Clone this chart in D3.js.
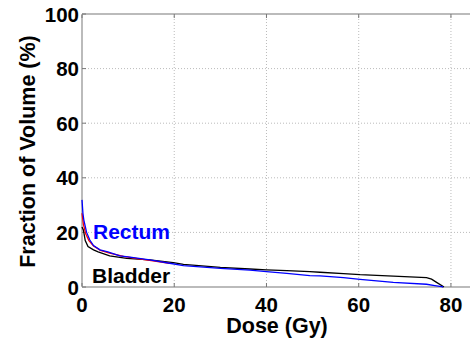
<!DOCTYPE html>
<html><head><meta charset="utf-8">
<script src="https://cdn.jsdelivr.net/npm/d3@7"></script>
<style>body{margin:0;background:#fff}svg{display:block}text{font-family:"Liberation Sans",Arial,sans-serif;font-weight:bold}</style>
</head><body>
<script>
const xTicks = [0, 20, 40, 60, 80];
const yTicks = [0, 20, 40, 60, 80, 100];
const rectumDose = [0, 0.2, 0.4, 1, 1.7, 2.5, 3.9, 5.6, 8.2, 10, 14.7, 19, 22, 30, 36.4, 40, 44.4, 49.4, 51.6, 56.7, 60.3, 67.5, 74.7, 76.5, 78, 78.3];
const rectumVol  = [31.9, 27, 24.5, 20, 17.2, 15.2, 13.6, 12.9, 11.4, 11.0, 9.9, 8.7, 7.8, 6.8, 6.2, 5.6, 5.0, 4.2, 4.1, 3.4, 2.8, 1.7, 1.0, 0.5, 0.1, 0];
const rectum2Dose = [0, 0.3, 0.8, 1.5, 2.5, 4, 6, 9, 12, 15, 19];
const rectum2Vol  = [27, 23, 19.5, 17, 15, 13.4, 12.4, 11.2, 10.4, 9.7, 8.7];
const bladderDose = [0, 0.3, 0.7, 1.3, 2.5, 3.5, 6, 9.7, 14.7, 19.8, 22, 30, 36.4, 40, 44.4, 49.4, 51.6, 56.7, 60.3, 67.5, 74.7, 75.8, 76.8, 78.5];
const bladderVol  = [22, 20.9, 17, 14.8, 13.6, 12.9, 11.4, 10.5, 9.9, 8.9, 8.3, 7.2, 6.6, 6.3, 6.0, 5.6, 5.4, 4.9, 4.5, 4.0, 3.4, 2.9, 1.8, 0];

const W = 470, H = 341;
const svg = d3.select("body").append("svg").attr("width", W).attr("height", H);
const x = d3.scaleLinear().domain([0, 85]).range([82, 474]);
const y = d3.scaleLinear().domain([0, 100]).range([287, 14]);

// grid
const g = svg.append("g");
g.selectAll(".gx").data(xTicks.filter(d => d > 0)).enter().append("line")
  .attr("x1", d => x(d)).attr("x2", d => x(d)).attr("y1", y(0)).attr("y2", y(100))
  .attr("stroke", "#bbb").attr("stroke-width", 1).attr("stroke-dasharray", "1,2");
g.selectAll(".gy").data(yTicks.filter(d => d > 0 && d < 100)).enter().append("line")
  .attr("y1", d => y(d)).attr("y2", d => y(d)).attr("x1", x(0)).attr("x2", W)
  .attr("stroke", "#bbb").attr("stroke-width", 1).attr("stroke-dasharray", "1,2");

// frame
svg.append("line").attr("x1", x(0)).attr("x2", W).attr("y1", y(100)).attr("y2", y(100)).attr("stroke", "#bbb").attr("stroke-width", 2);
svg.append("line").attr("x1", x(0)).attr("x2", W).attr("y1", y(0)).attr("y2", y(0)).attr("stroke", "#bbb").attr("stroke-width", 2);
svg.append("line").attr("x1", x(0)).attr("x2", x(0)).attr("y1", y(0)-1).attr("y2", y(100)+1).attr("stroke", "#bbb").attr("stroke-width", 2);

// tick marks
svg.selectAll(".tb").data(xTicks).enter().append("line")
  .attr("x1", d => x(d)).attr("x2", d => x(d)).attr("y1", y(0)).attr("y2", y(0) - 4).attr("stroke", "#777");
svg.selectAll(".tt").data(xTicks).enter().append("line")
  .attr("x1", d => x(d)).attr("x2", d => x(d)).attr("y1", y(100)).attr("y2", y(100) + 4).attr("stroke", "#777");
svg.selectAll(".tl").data(yTicks).enter().append("line")
  .attr("x1", x(0)).attr("x2", x(0) + 4).attr("y1", d => y(d)).attr("y2", d => y(d)).attr("stroke", "#777");

// tick labels
svg.selectAll(".xl").data(xTicks).enter().append("text")
  .attr("x", d => x(d)).attr("y", 312).attr("text-anchor", "middle")
  .attr("font-size", 20.5).text(d => d);
svg.selectAll(".yl").data(yTicks).enter().append("text")
  .attr("x", 79).attr("y", d => y(d) + 7.5).attr("text-anchor", "end")
  .attr("font-size", 20.5).text(d => d);

// titles
svg.append("text").attr("x", 277).attr("y", 333).attr("text-anchor", "middle").attr("font-size", 21.5).text("Dose (Gy)");
svg.append("text").attr("transform", "translate(35,151.5) rotate(-90)").attr("text-anchor", "middle").attr("font-size", 21.5).text("Fraction of Volume (%)");

// curves
const line = d3.line().x(d => x(d[0])).y(d => y(d[1]));
const mk = (a, b) => a.map((d, i) => [d, b[i]]);
svg.append("path").attr("d", line(mk(bladderDose, bladderVol))).attr("fill", "none").attr("stroke", "#000").attr("stroke-width", 1.3);
svg.append("path").attr("d", line(mk(rectum2Dose, rectum2Vol))).attr("fill", "none").attr("stroke", "#ff0000").attr("stroke-width", 1.3);
svg.append("path").attr("d", line(mk(rectumDose, rectumVol))).attr("fill", "none").attr("stroke", "#0000ff").attr("stroke-width", 1.3);

// labels
svg.append("text").attr("x", 93).attr("y", 239).attr("font-size", 21).attr("fill", "#0000ff").text("Rectum");
svg.append("text").attr("x", 92).attr("y", 283).attr("font-size", 21).attr("fill", "#000").text("Bladder");
</script>
</body></html>
